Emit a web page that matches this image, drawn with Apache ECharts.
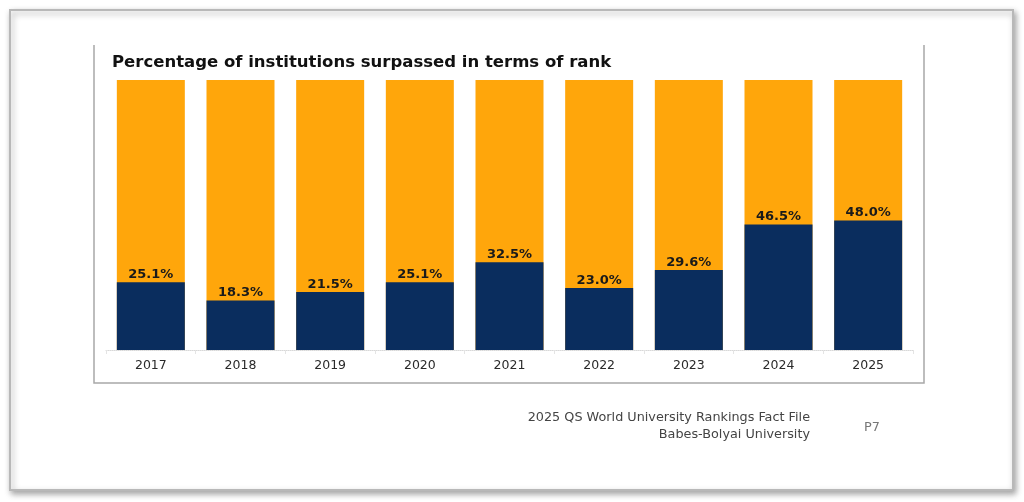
<!DOCTYPE html>
<html><head><meta charset="utf-8">
<script src="https://cdn.jsdelivr.net/npm/echarts@6/dist/echarts.min.js"></script>
<style>html,body{margin:0;padding:0;background:#fff;}#c{width:1024px;height:502px;}</style>
</head><body><div id="c"></div>
<script>
const years = ['2017','2018','2019','2020','2021','2022','2023','2024','2025'];
const surpassed = [25.1, 18.3, 21.5, 25.1, 32.5, 23.0, 29.6, 46.5, 48.0];
const titleText = 'Percentage of institutions surpassed in terms of rank';
const footerLines = ['2025 QS World University Rankings Fact File', 'Babes-Bolyai University'];
const pageLabel = 'P7';

const NAVY = '#0A2D5E', ORANGE = '#FFA60B';
const FONT = '"DejaVu Sans", Verdana, sans-serif';

const chart = echarts.init(document.getElementById('c'));
chart.setOption({
  animation: false,
  backgroundColor: '#fff',
  title: {
    text: titleText, left: 107, top: 49,
    textStyle: {fontFamily: FONT, fontSize: 16.5, fontWeight: 'bold', color: '#111'}
  },
  grid: {left: 106, right: 111, top: 80, height: 270},
  xAxis: {
    type: 'category', data: years,
    axisLine: {lineStyle: {color: '#d8d8d8', type: 'dotted', width: 1}},
    axisTick: {show: true, length: 4, lineStyle: {color: '#e4e4e4'}},
    axisLabel: {fontFamily: FONT, fontSize: 12.5, color: '#2a2a2a', margin: 9}
  },
  yAxis: {type: 'value', min: 0, max: 100, show: false, splitLine: {show: false}},
  series: [{
    type: 'bar', data: surpassed, barWidth: 68,
    itemStyle: {color: NAVY},
    showBackground: true,
    backgroundStyle: {color: ORANGE},
    label: {
      show: true, position: 'top', distance: 1,
      formatter: p => p.value.toFixed(1) + '%',
      fontFamily: FONT, fontSize: 13, fontWeight: 'bold', color: '#1a1a1a'
    }
  }],
  graphic: [
    {type: 'rect', z: -10, shape: {x: 10, y: 10, width: 1003, height: 480},
     style: {fill: '#fff', stroke: '#b8b8b8', lineWidth: 2, shadowBlur: 6, shadowOffsetX: 2, shadowOffsetY: 3, shadowColor: 'rgba(0,0,0,0.35)'}},
    {type: 'polyline', z: 5, shape: {points: [[94, 45], [94, 383], [924, 383], [924, 45]]},
     style: {fill: null, stroke: '#a8a8a8', lineWidth: 1.5}},
    {type: 'text', z: 5, x: 810, y: 411,
     style: {text: footerLines[0], align: 'right', fontFamily: FONT, fontSize: 12.8, fill: '#444'}},
    {type: 'text', z: 5, x: 810, y: 428,
     style: {text: footerLines[1], align: 'right', fontFamily: FONT, fontSize: 12.8, fill: '#444'}},
    {type: 'text', z: 5, x: 864, y: 421,
     style: {text: pageLabel, fontFamily: FONT, fontSize: 12.8, fill: '#777'}}
  ]
});
</script></body></html>
